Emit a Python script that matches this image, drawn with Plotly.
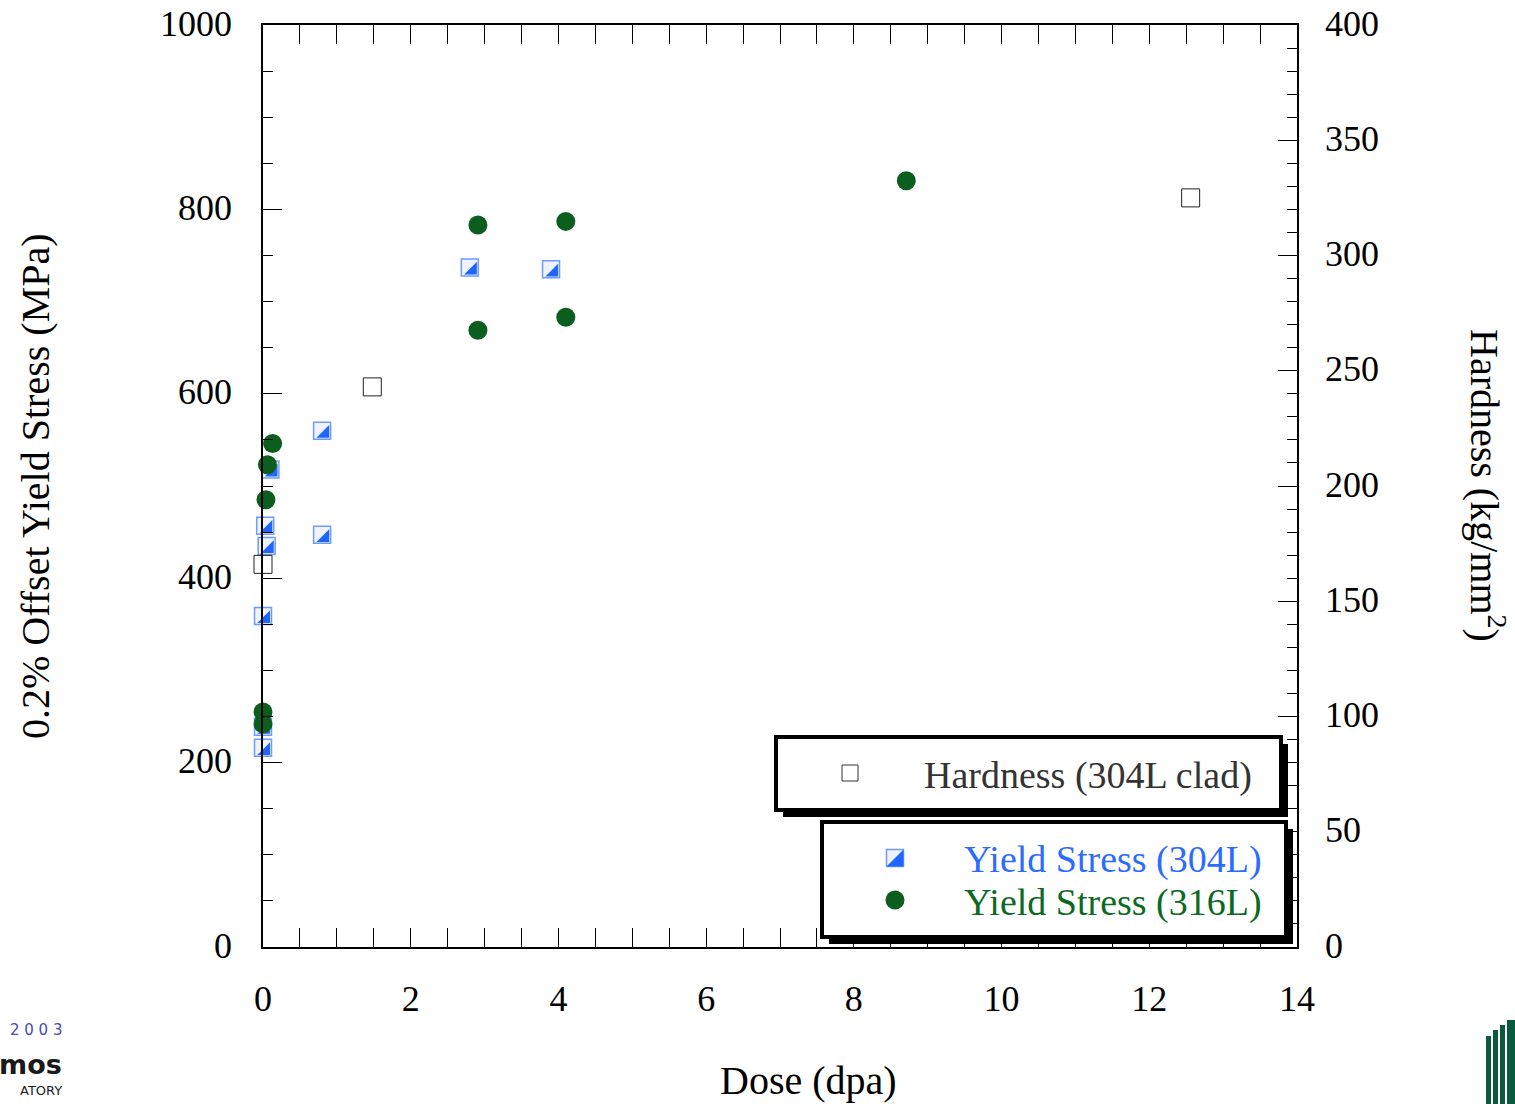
import plotly.graph_objects as go

# ---------------- data ----------------
hard_dose = [0.0, 1.48, 12.56]
hard_val = [166, 243, 325]

ys304_dose = [0.0, 0.0, 0.0, 0.03, 0.05, 0.10, 0.80, 0.80, 2.80, 3.90]
ys304_val = [216, 239, 359, 457, 435, 518, 560, 447, 737, 735]

ys316_dose = [0.0, 0.0, 0.04, 0.06, 0.13, 2.91, 2.91, 4.10, 4.10, 8.71]
ys316_val = [242, 255, 485, 523, 546, 783, 669, 787, 683, 831]

x_ticks = [0, 2, 4, 6, 8, 10, 12, 14]
yl_ticks = [0, 200, 400, 600, 800, 1000]
yr_ticks = [0, 50, 100, 150, 200, 250, 300, 350, 400]

# ---------------- layout constants ----------------
W, H = 1515, 1104
L, R, T, B = 263, 218, 25, 157
PW, PH = W - L - R, H - T - B
XR, YR, Y2R = 14.0, 1000.0, 400.0
FONT = "Liberation Serif"
BLUE = "#1f66ff"
BLUE_EDGE = "#6f9bff"
BLUE_LIGHT = "#eef3ff"
GREEN = "#0b5e1e"

def px(xp):
    return (xp - L) / PW

def py(yp):
    return (H - B - yp) / PH

SQ = 17  # square marker size (px)
tri_r = (SQ / 2) / 1.2
TRI = 2 * tri_r
d = 0.4 * tri_r  # triangle-se bbox centre sits 0.4r left/up of its anchor
tri_dose = [v + d * XR / PW for v in ys304_dose]
tri_val = [v - d * YR / PH for v in ys304_val]

fig = go.Figure()

fig.add_trace(go.Scatter(
    x=hard_dose, y=hard_val, yaxis="y2", mode="markers", name="Hardness (304L clad)",
    marker=dict(symbol="square", size=18, color="white", line=dict(color="#222222", width=1)),
    cliponaxis=False, showlegend=False))

fig.add_trace(go.Scatter(
    x=ys304_dose, y=ys304_val, mode="markers", name="Yield Stress (304L)",
    marker=dict(symbol="square", size=SQ, color=BLUE_LIGHT, line=dict(color=BLUE_EDGE, width=1.5)),
    cliponaxis=False, showlegend=False))
fig.add_trace(go.Scatter(
    x=tri_dose, y=tri_val, mode="markers", hoverinfo="skip",
    marker=dict(symbol="triangle-se", size=TRI, color=BLUE, line=dict(width=0)),
    cliponaxis=False, showlegend=False))

fig.add_trace(go.Scatter(
    x=ys316_dose, y=ys316_val, mode="markers", name="Yield Stress (316L)",
    marker=dict(symbol="circle", size=19, color=GREEN, line=dict(width=0)),
    cliponaxis=False, showlegend=False))

# ---------------- legend boxes ----------------
shapes = []
def box(x0, y0, x1, y1, off=7):
    shapes.append(dict(type="rect", xref="paper", yref="paper", layer="above",
                       x0=px(x0 + off), x1=px(x1 + off), y0=py(y0 + off), y1=py(y1 + off),
                       fillcolor="black", line=dict(width=0)))
    shapes.append(dict(type="rect", xref="paper", yref="paper", layer="above",
                       x0=px(x0), x1=px(x1), y0=py(y0), y1=py(y1),
                       fillcolor="white", line=dict(color="black", width=4)))

box(776, 737, 1281, 810)
box(822, 822, 1286, 937)

# legend symbols
s = 8
cx, cy = 850, 773
shapes.append(dict(type="rect", xref="paper", yref="paper", layer="above",
                   x0=px(cx - s), x1=px(cx + s), y0=py(cy + s), y1=py(cy - s),
                   fillcolor="white", line=dict(color="#333333", width=1)))
s = 8.5
cx, cy = 895, 858
shapes.append(dict(type="rect", xref="paper", yref="paper", layer="above",
                   x0=px(cx - s), x1=px(cx + s), y0=py(cy + s), y1=py(cy - s),
                   fillcolor=BLUE_LIGHT, line=dict(color=BLUE_EDGE, width=1.5)))
shapes.append(dict(type="path", xref="paper", yref="paper", layer="above",
                   path=f"M {px(cx - s)},{py(cy + s)} L {px(cx + s)},{py(cy + s)} L {px(cx + s)},{py(cy - s)} Z",
                   fillcolor=BLUE, line=dict(width=0)))
cx, cy, rr = 895, 900, 9.5
shapes.append(dict(type="circle", xref="paper", yref="paper", layer="above",
                   x0=px(cx - rr), x1=px(cx + rr), y0=py(cy + rr), y1=py(cy - rr),
                   fillcolor=GREEN, line=dict(width=0)))

# right-bottom logo stripes
for (x0, x1, ytop) in [(1486, 1491, 1036), (1493, 1498, 1030), (1500, 1505, 1025), (1507, 1516, 1020)]:
    shapes.append(dict(type="rect", xref="paper", yref="paper", layer="above",
                       x0=px(x0), x1=px(x1), y0=py(1104), y1=py(ytop),
                       fillcolor="#0b5a3c", line=dict(width=0)))

annotations = [
    dict(text="Hardness (304L clad)", x=px(1088), y=py(775), xref="paper", yref="paper",
         xanchor="center", yanchor="middle", showarrow=False,
         font=dict(family=FONT, size=38, color="#333333")),
    dict(text="Yield Stress (304L)", x=px(1113), y=py(859), xref="paper", yref="paper",
         xanchor="center", yanchor="middle", showarrow=False,
         font=dict(family=FONT, size=38, color="#2b6cff")),
    dict(text="Yield Stress (316L)", x=px(1113), y=py(902), xref="paper", yref="paper",
         xanchor="center", yanchor="middle", showarrow=False,
         font=dict(family=FONT, size=38, color="#0b6a1e")),
    dict(text="0.2% Offset Yield Stress (MPa)", x=px(35), y=py(486), xref="paper", yref="paper",
         xanchor="center", yanchor="middle", showarrow=False, textangle=-90,
         font=dict(family=FONT, size=40, color="black")),
    dict(text="Hardness (kg/mm<sup>2</sup>)", x=px(1488), y=py(485), xref="paper", yref="paper",
         xanchor="center", yanchor="middle", showarrow=False, textangle=90,
         font=dict(family=FONT, size=40, color="black")),
    dict(text="Dose (dpa)", x=px(808), y=py(1080), xref="paper", yref="paper",
         xanchor="center", yanchor="middle", showarrow=False,
         font=dict(family=FONT, size=40, color="black")),
    # partial logo bottom-left (visible fragments)
    dict(text="2 0 0 3", x=px(64), y=py(1030), xref="paper", yref="paper",
         xanchor="right", yanchor="middle", showarrow=False,
         font=dict(family="DejaVu Sans", size=15, color="#4b4ba8")),
    dict(text="<b>mos</b>", x=px(64), y=py(1064), xref="paper", yref="paper",
         xanchor="right", yanchor="middle", showarrow=False,
         font=dict(family="DejaVu Sans", size=27, color="#1a1a1a")),
    dict(text="ATORY", x=px(64), y=py(1090), xref="paper", yref="paper",
         xanchor="right", yanchor="middle", showarrow=False,
         font=dict(family="DejaVu Sans", size=13, color="#1a1a1a")),
]

tickfont = dict(family=FONT, size=36, color="black")

fig.update_layout(
    width=W, height=H,
    margin=dict(l=L, r=R, t=T, b=B, pad=0, autoexpand=False),
    paper_bgcolor="white", plot_bgcolor="white",
    showlegend=False,
    shapes=shapes, annotations=annotations,
    xaxis=dict(range=[0, XR], tickvals=x_ticks, ticktext=[str(v) for v in x_ticks],
               automargin=False,
               showgrid=False, zeroline=False, showline=True, linecolor="black", linewidth=1.5,
               mirror="allticks", ticks="inside", ticklen=19, tickwidth=1, tickcolor="black",
               minor=dict(dtick=0.5, ticks="inside", ticklen=10, tickwidth=1, tickcolor="black", showgrid=False),
               tickfont=tickfont, ticklabelstandoff=19),
    yaxis=dict(range=[0, YR], tickvals=yl_ticks, ticktext=[str(v) for v in yl_ticks],
               automargin=False,
               showgrid=False, zeroline=False, showline=True, linecolor="black", linewidth=1.5,
               ticks="inside", ticklen=19, tickwidth=1, tickcolor="black",
               minor=dict(dtick=50, ticks="inside", ticklen=10, tickwidth=1, tickcolor="black", showgrid=False),
               tickfont=tickfont, ticklabelstandoff=22, ticklabelshift=-2),
    yaxis2=dict(range=[0, Y2R], tickvals=yr_ticks, ticktext=[str(v) for v in yr_ticks],
                automargin=False,
                overlaying="y", side="right",
                showgrid=False, zeroline=False, showline=True, linecolor="black", linewidth=1.5,
                ticks="inside", ticklen=19, tickwidth=1, tickcolor="black",
                minor=dict(dtick=10, ticks="inside", ticklen=10, tickwidth=1, tickcolor="black", showgrid=False),
                tickfont=tickfont, ticklabelstandoff=19, ticklabelshift=-2),
)

fig.write_html("out.html", config={"displayModeBar": False},
               post_script="document.body.style.margin='0px';document.body.style.padding='0px';document.body.style.overflow='hidden';")
